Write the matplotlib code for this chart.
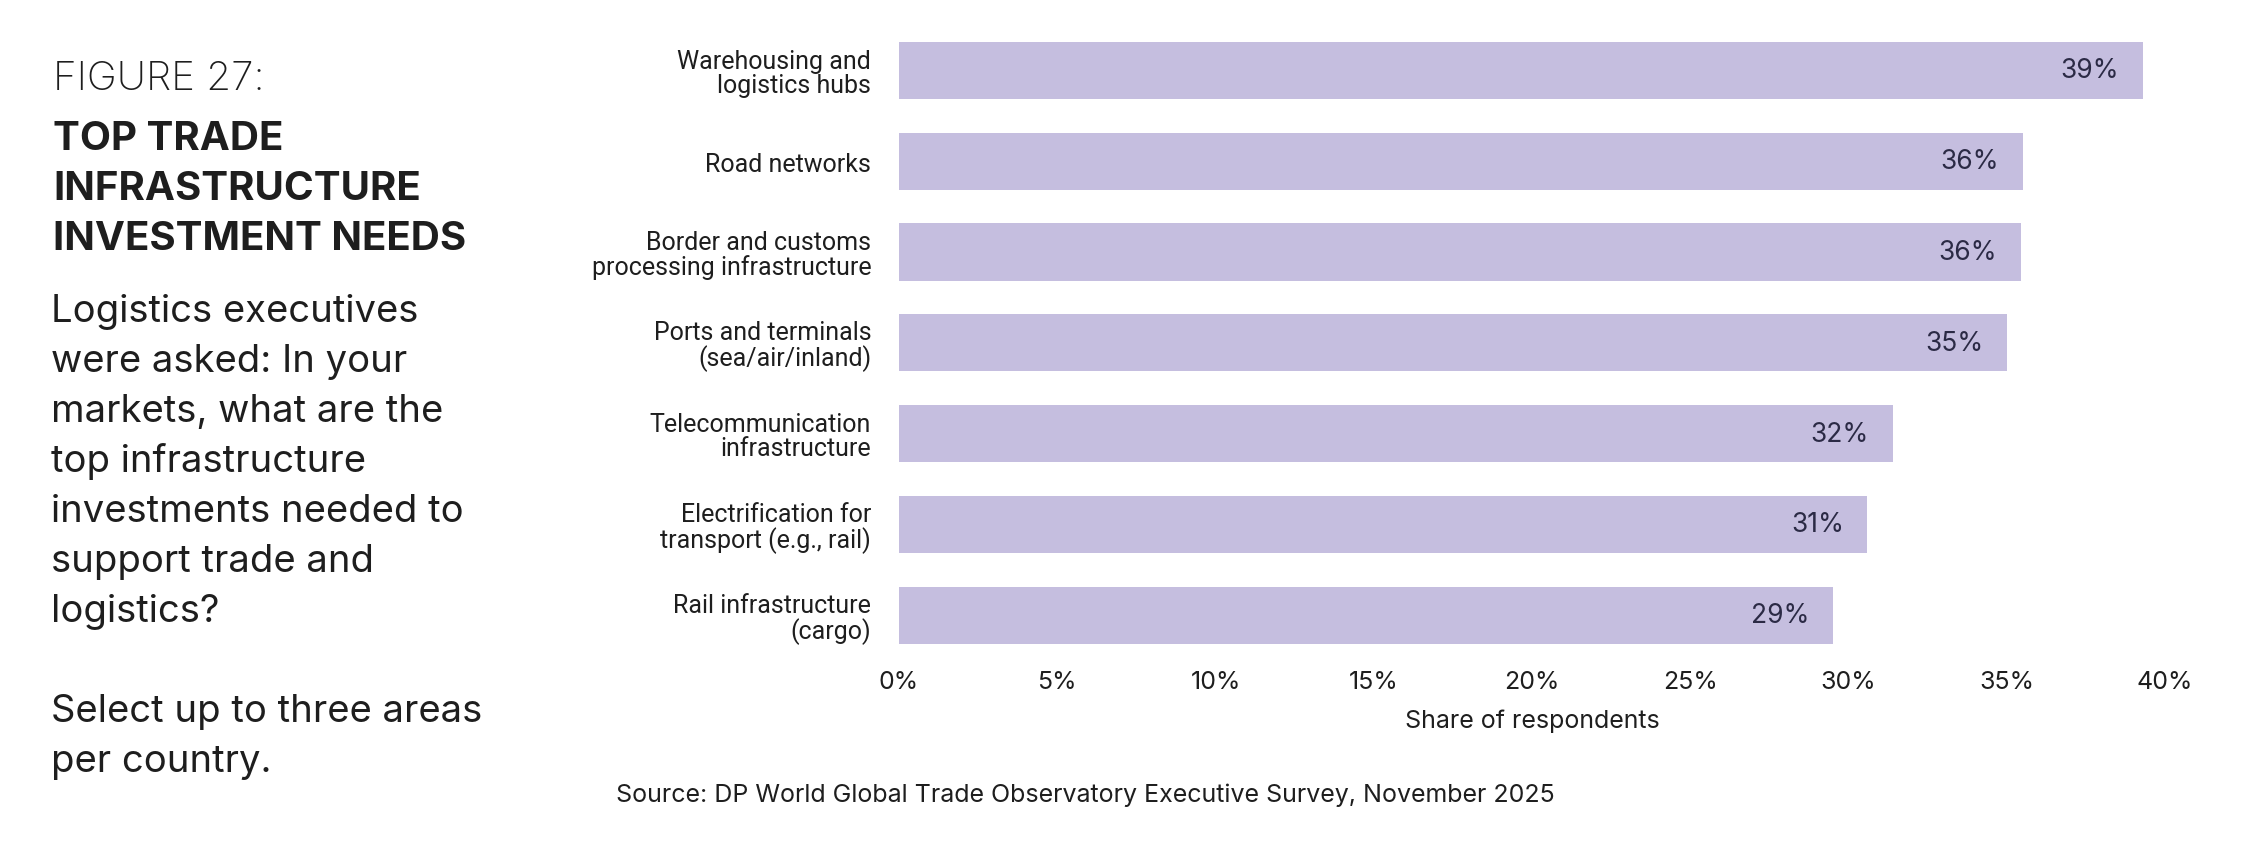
import matplotlib
matplotlib.use('Agg')
import matplotlib.pyplot as plt

# data
categories = [
    'Warehousing and\nlogistics hubs',
    'Road networks',
    'Border and customs\nprocessing infrastructure',
    'Ports and terminals\n(sea/air/inland)',
    'Telecommunication\ninfrastructure',
    'Electrification for\ntransport (e.g., rail)',
    'Rail infrastructure\n(cargo)',
]
shares = [39.3, 35.5, 35.45, 35.0, 31.4, 30.6, 29.5]
value_labels = ['39%', '36%', '36%', '35%', '32%', '31%', '29%']
xticks = [0, 5, 10, 15, 20, 25, 30, 35, 40]

fig_label = 'FIGURE 27:'
title_lines = ['TOP TRADE', 'INFRASTRUCTURE', 'INVESTMENT NEEDS']
body_lines = ['Logistics executives', 'were asked: In your', 'markets, what are the',
              'top infrastructure', 'investments needed to', 'support trade and',
              'logistics?', '', 'Select up to three areas', 'per country.']
source = 'Source: DP World Global Trade Observatory Executive Survey, November 2025'

BAR = '#c5bedf'
INK = '#1e1e1e'
NAVY = '#2b2a45'
FONT = ['Inter', 'DejaVu Sans']
NARROW = ['Roboto', 'DejaVu Sans']

plt.rcParams['font.family'] = FONT

W, H = 2246, 853
fig = plt.figure(figsize=(W / 100, H / 100), dpi=100, facecolor='white')


def px(x, y):
    return x / W, 1 - y / H


# left text panel
fig.text(*px(53, 80), fig_label, fontsize=29, fontweight='light', color=INK, va='center')
for i, line in enumerate(title_lines):
    fig.text(*px(53, 140 + i * 50), line, fontsize=29, fontweight='bold', color=INK, va='center')
for i, line in enumerate(body_lines):
    fig.text(*px(51, 312 + i * 50), line, fontsize=27.5, color=INK, va='center')

# bar chart
ax = fig.add_axes([899 / W, 1 - 661.5 / H, (2165 - 899) / W, (661.5 - 26) / H])
ypos = range(len(categories))
ax.barh(ypos, shares, height=0.63, color=BAR)
ax.set_ylim(6.5, -0.5)
ax.set_xlim(0, 40)
for sp in ax.spines.values():
    sp.set_visible(False)
ax.tick_params(length=0)
ax.set_xticks(xticks, [f'{t}%' for t in xticks], fontsize=18, color=INK)
ax.set_yticks(list(ypos), categories, fontsize=18, color=INK, family=NARROW, linespacing=1.0)
ax.tick_params(axis='y', pad=20)
ax.tick_params(axis='x', pad=7)
ax.set_xlabel('Share of respondents', fontsize=18, color=INK, labelpad=11)

for i, (v, lab) in enumerate(zip(shares, value_labels)):
    ax.annotate(lab, (v, i), xytext=(-17, 0), textcoords='offset points',
                ha='right', va='center', fontsize=19, color=NAVY)

fig.text(*px(616, 795), source, fontsize=18, color=INK, va='center')

fig.savefig('out.png', dpi=100, facecolor='white')
